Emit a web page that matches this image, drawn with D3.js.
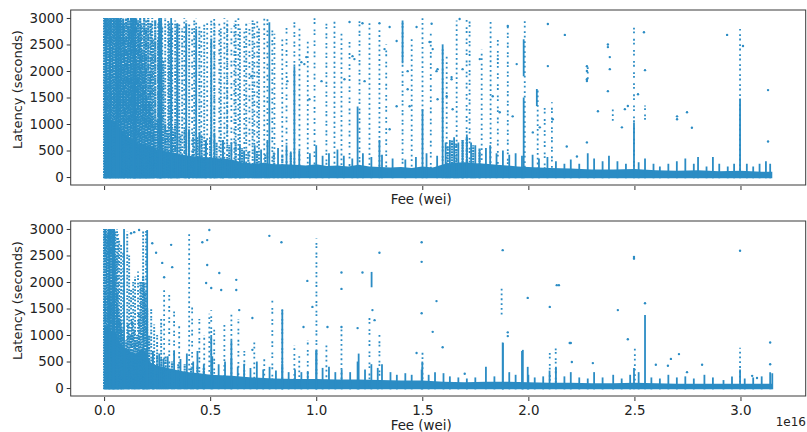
<!DOCTYPE html>
<html>
<head>
<meta charset="utf-8">
<script src="https://cdn.jsdelivr.net/npm/d3@7"></script>
<style>
  body { margin: 0; background: #fff; }
  .wrapper { width: 807px; height: 432px; }
  text { font-family: "DejaVu Sans", sans-serif; fill: #222; }
  .axis path { stroke: none; }
  .axis line { stroke: #333; }
  .axis text { font-size: 13.4px; }
</style>
</head>
<body>
<div class="wrapper"></div>
<script>
width = 807;
height = 432;
blue = "#2b8cc4";

// fee values are in units of 1e16 wei, latency in seconds
xTicks = [0.0, 0.5, 1.0, 1.5, 2.0, 2.5, 3.0];
yTicks = [0, 500, 1000, 1500, 2000, 2500, 3000];

/* ---------- top panel ---------- */
// upper edge of the solid mass of points [fee, latency]
topBase = [[0,1200],[0.03,1100],[0.06,1000],[0.09,850],[0.12,750],[0.15,650],[0.2,600],[0.25,520],[0.3,480],[0.35,430],
  [0.4,400],[0.45,380],[0.5,370],[0.55,350],[0.6,330],[0.65,280],[0.7,250],[0.75,270],[0.8,240],[0.85,240],[0.9,230],
  [0.95,220],[1.0,240],[1.05,210],[1.1,220],[1.15,200],[1.2,230],[1.25,200],[1.3,190],[1.35,180],[1.4,190],[1.45,170],
  [1.5,200],[1.55,180],[1.6,240],[1.65,270],[1.7,280],[1.75,260],[1.8,250],[1.85,230],[1.9,220],[1.95,200],[2.0,190],
  [2.1,170],[2.2,160],[2.3,140],[2.4,140],[2.5,150],[2.6,130],[2.7,120],[2.8,130],[2.9,110],[3.0,120],[3.1,100],[3.15,100]];
// short runs of points rising above the mass [fee, latency]
topSpikes = [[0.40,900],[0.45,850],[0.48,700],[0.52,800],[0.56,700],[0.60,650],[0.64,600],[0.66,500],[0.71,600],[0.74,520],
  [0.77,700],[0.82,550],[0.86,600],[0.88,480],[0.92,500],[0.97,450],[1.00,600],[1.03,400],[1.06,450],[1.10,520],[1.13,400],
  [1.17,350],[1.22,450],[1.26,380],[1.31,420],[1.36,350],[1.42,330],[1.47,380],[1.52,450],[1.57,400],[1.61,650],[1.63,700],
  [1.65,750],[1.67,650],[1.69,700],[1.71,800],[1.73,650],[1.75,600],[1.77,500],[1.80,550],[1.82,600],[1.85,450],[1.88,500],
  [1.91,420],[1.94,450],[1.97,400],[2.02,420],[2.05,350],[2.09,380],[2.13,300],[2.17,250],[2.20,330],[2.24,250],[2.28,450],
  [2.31,350],[2.35,300],[2.38,400],[2.42,300],[2.46,250],[2.52,280],[2.55,350],[2.59,250],[2.62,200],[2.66,250],[2.70,300],
  [2.74,350],[2.78,250],[2.80,380],[2.84,200],[2.87,380],[2.90,250],[2.94,200],[2.97,250],[3.03,250],[3.06,200],[3.09,250],
  [3.12,300],[3.14,250]];
// packed columns of points [fee, max latency]
topDense = [[0.000,3000],[0.005,3000],[0.009,3000],[0.014,3000],[0.019,3000],[0.024,3000],[0.028,2950],[0.033,3000],
  [0.038,3000],[0.042,3000],[0.047,3000],[0.052,3000],[0.057,3000],[0.061,3000],[0.066,3000],[0.071,2950],[0.076,3000],
  [0.080,3000],[0.085,2900],[0.090,3000],[0.094,2900],[0.099,2600],[0.104,3000],[0.109,2400],[0.113,3000],[0.118,2800],
  [0.123,2950],[0.127,3000],[0.132,3000],[0.137,3000],[0.142,3000],[0.146,2500],[0.151,3000],[0.156,2200],[0.160,2950],
  [0.165,2700],[0.170,3000],[0.175,2900],[0.180,2400],[0.184,2000],[0.189,3000],[0.194,2300],[0.198,2800],[0.203,1500],
  [0.208,3000],[0.212,1400],[0.217,2000],[0.222,2900],[0.227,1200],[0.232,2600],[0.236,1000],[0.241,2950],[0.250,1100],
  [0.255,2600],[0.260,3000],[0.264,1200],[0.269,2900],[0.274,900],[0.279,2200],[0.288,1000],[0.297,900],[0.307,2900],
  [0.316,2800],[0.325,900],[0.335,1000],[0.345,2900],[0.360,800],[0.380,900],[0.400,850],[0.420,800],[0.440,750],
  [0.460,800],[0.480,700],[0.500,750],[0.530,650],[0.560,700],[0.590,600],[0.620,650],[0.650,550],[0.680,500],[0.720,500],
  [0.760,450],[0.800,480],[0.840,420],[0.880,450],[1.620,600],[1.640,700],[1.660,650],[1.690,700],[1.710,750],[1.740,600],
  [1.770,550]];
// fairly busy columns [fee, max latency]
topMid = [[0.090,3000],[0.094,2900],[0.104,3000],[0.113,3000],[0.123,2950],[0.127,3000],[0.142,3000],[0.151,3000],
  [0.160,2950],[0.170,3000],[0.180,2900],[0.189,3000],[0.198,2950],[0.208,3000],[0.217,2900],[0.227,3000],[0.241,2950],
  [0.255,2900],[0.264,3000],[0.274,2850],[0.288,3000],[0.302,2950],[0.321,2900],[0.335,2950],[0.354,2900],[0.368,2800],
  [0.387,2950],[0.401,2900],[0.425,2950],[0.449,2850],[0.472,2900],[0.505,2950],[0.520,2900],[0.550,2800],[0.580,2900],
  [0.620,2950],[0.640,2800],[0.670,2900],[0.700,2950],[0.730,2800]];
// thin columns [fee, min latency, max latency]
topSparse = [[0.378,0,3000],[0.415,0,2900],[0.434,0,3000],[0.458,0,2800],[0.486,0,2950],[0.519,0,3000],[0.543,0,2900],
  [0.567,0,3000],[0.581,0,2950],[0.600,0,2800],[0.614,0,2900],[0.633,0,3000],[0.661,0,2750],[0.685,0,2900],[0.708,0,2950],
  [0.722,0,2950],[0.755,0,3000],[0.770,0,3000],[0.793,0,2800],[0.803,0,2700],[0.840,0,2650],[0.860,0,2900],[0.897,0,2950],
  [0.921,0,2800],[0.960,0,2600],[0.992,0,3000],[1.048,0,2950],[1.086,0,2980],[1.119,0,2700],[1.157,0,2650],[1.204,0,2960],
  [1.251,0,2900],[1.298,0,2800],[1.330,0,2500],[1.407,0,2950],[1.450,0,2600],[1.501,0,3000],[1.540,0,2700],[1.596,0,2500],
  [1.615,0,2300],[1.662,0,2950],[1.709,0,3000],[1.723,0,2950],[1.780,0,2400],[1.822,0,2980],[1.856,0,2600],[1.903,0,2850],
  [1.983,0,3000],[2.044,0,1660],[2.077,0,1310],[2.111,0,1410],[2.280,1800,2090],[2.398,1030,1280],[2.498,0,2920],
  [2.550,1000,1350],[2.998,0,2790]];
// solid lines of points [fee, min latency, max latency]
topSolid = [[0.009,0,3000],[0.028,0,3000],[0.057,0,3000],[0.066,0,3000],[0.076,0,3000],[0.137,0,3000],[0.146,0,3000],
  [0.260,0,3000],[0.269,0,3000],[0.316,0,3000],[0.345,0,2900],[0.387,0,2900],[0.434,0,2800],[0.505,0,2600],[0.779,0,2920],
  [0.897,0,2090],[1.195,0,1330],[1.298,0,700],[1.407,2170,2950],[1.501,0,1280],[1.596,0,2500],[1.978,1900,2600],
  [1.978,0,1500],[2.040,1340,1660],[2.498,0,1030],[2.998,0,1470]];
// isolated points [fee, latency]
topDots = [[2.172,2680],[2.276,2090],[2.276,2000],[2.276,1810],[2.328,1240],[2.375,2500],[2.375,2450],[2.384,2262],
  [2.384,2035],[2.375,1620],[2.441,937],[2.455,1280],[2.469,1340],[2.517,1560],[2.545,2730],[2.550,2016],[2.701,1145],
  [2.701,1090],[2.748,1221],[2.771,930],[2.937,2680],[3.012,2470],[3.130,1640],[3.130,670],[0.944,2130],[0.953,2262],
  [1.157,2925],[1.218,2900],[1.298,2900],[1.346,2830],[1.379,2565],[1.473,2830],[1.544,2890],[1.549,2413],[1.567,1997],
  [1.638,1885],[1.676,2980],[1.690,2035],[1.771,2224],[1.856,2224],[1.903,2849],[1.945,2130],[2.092,2886],[2.092,2092],
  [2.276,1845],[1.346,900],[1.379,1334],[1.440,1334],[1.615,1524],[1.643,1278],[1.832,1524],[1.865,1221],[1.926,1145],
  [2.021,842],[2.054,937],[2.115,1089],[2.181,577],[2.229,388],[2.276,653],[0.694,1900],[0.864,1808],[0.930,2167],
  [0.968,1467],[1.025,1808],[1.133,1845],[1.171,2280],[1.180,2224],[1.228,1808],[1.322,2413],[1.431,1997],[1.431,1656],
  [1.534,2546],[1.572,1467],[1.572,2035],[1.638,1845]];

/* ---------- bottom panel ---------- */
bottomBase = [[0,1200],[0.03,1100],[0.06,1000],[0.08,800],[0.1,750],[0.12,700],[0.15,650],[0.18,750],[0.2,650],[0.22,480],
  [0.25,420],[0.3,380],[0.35,330],[0.4,300],[0.45,280],[0.5,250],[0.55,240],[0.6,230],[0.7,200],[0.8,180],[0.9,170],
  [1.0,170],[1.1,160],[1.2,160],[1.3,150],[1.4,140],[1.5,140],[1.6,120],[1.7,110],[1.8,120],[1.9,120],[2.0,110],[2.1,100],
  [2.2,100],[2.3,90],[2.4,90],[2.5,100],[2.6,90],[2.7,80],[2.8,80],[2.9,80],[3.0,80],[3.1,80],[3.15,80]];
bottomSpikes = [[0.23,700],[0.26,650],[0.28,550],[0.30,600],[0.33,700],[0.36,550],[0.39,650],[0.42,500],[0.44,700],
  [0.47,450],[0.51,600],[0.54,450],[0.57,500],[0.60,550],[0.63,400],[0.66,450],[0.69,380],[0.72,500],[0.75,350],[0.78,400],
  [0.81,330],[0.84,450],[0.87,300],[0.90,350],[0.93,300],[0.96,320],[1.00,700],[1.03,380],[1.06,400],[1.09,300],[1.12,350],
  [1.16,300],[1.20,650],[1.23,350],[1.26,450],[1.29,380],[1.31,450],[1.35,300],[1.38,250],[1.42,280],[1.45,250],[1.50,500],
  [1.53,250],[1.56,300],[1.60,280],[1.63,220],[1.67,200],[1.71,180],[1.75,200],[1.80,400],[1.84,220],[1.88,850],[1.91,300],
  [1.94,250],[1.97,700],[2.00,250],[2.03,200],[2.07,220],[2.10,330],[2.13,400],[2.17,220],[2.20,300],[2.24,200],[2.28,180],
  [2.31,300],[2.35,200],[2.40,250],[2.44,180],[2.48,250],[2.52,300],[2.58,200],[2.62,180],[2.66,250],[2.70,200],[2.74,220],
  [2.78,180],[2.83,250],[2.87,200],[2.92,150],[2.96,220],[3.02,180],[3.06,200],[3.10,220],[3.15,280]];
bottomDense = [[0.000,3000],[0.005,3000],[0.009,3000],[0.014,2900],[0.019,3000],[0.024,3000],[0.028,3000],[0.033,3000],
  [0.038,3000],[0.042,2950],[0.047,3000],[0.052,2950],[0.057,2500],[0.061,1800],[0.066,1500],[0.071,1400],[0.076,1300],
  [0.080,1200],[0.085,1100],[0.090,1000],[0.104,900],[0.113,1200],[0.123,1000],[0.132,1300],[0.142,1100],[0.151,900],
  [0.156,1000],[0.165,1400],[0.175,2000],[0.184,2100],[0.189,2000],[0.194,1800],[0.203,1500],[0.212,1000],[0.230,600],
  [0.250,650],[0.270,550],[0.290,600],[0.320,500],[0.350,450],[0.380,450],[0.410,400],[0.440,420],[0.470,380]];
bottomMid = [[0.061,3000],[0.066,2900],[0.071,2800],[0.080,2700],[0.090,2600],[0.109,2950],[0.118,2500],[0.127,1900],
  [0.137,2000],[0.146,2100],[0.160,2200],[0.170,2000],[0.184,2950],[0.198,3000],[0.222,1500],[0.236,1200],[0.250,1000],
  [0.269,1300]];
bottomSparse = [[0.283,0,1850],[0.307,0,1800],[0.330,0,1500],[0.354,0,1200],[0.401,0,2950],[0.415,0,1600],[0.449,0,1300],
  [0.472,0,1000],[0.496,0,1400],[0.505,0,1470],[0.519,0,1100],[0.567,0,1200],[0.600,0,1415],[0.633,0,1300],[0.661,0,700],
  [0.708,0,900],[0.755,0,600],[0.793,0,1650],[0.840,0,1500],[0.897,0,800],[0.920,0,600],[0.960,0,900],[1.001,0,2830],
  [1.048,0,800],[1.119,0,1150],[1.251,0,1400],[1.298,0,1000],[1.501,0,700],[1.874,1340,1890],[2.101,0,750],[2.129,0,800],
  [2.502,0,780],[2.998,0,760]];
bottomSolid = [[0.024,0,3000],[0.042,0,3000],[0.047,0,3000],[0.094,0,3000],[0.203,0,2980],[0.505,0,1000],[0.600,0,900],
  [0.840,0,1470],[1.001,0,720],[1.195,0,500],[1.261,1900,2190],[1.497,0,350],[1.879,0,860],[1.974,0,720],[1.997,0,400],
  [2.498,0,380],[2.550,0,1377],[2.998,0,350],[3.140,0,300]];
bottomDots = [[1.119,2180],[1.119,1870],[1.119,1150],[1.218,2180],[1.298,2550],[1.497,2750],[1.497,2380],[1.497,1410],
  [1.567,1640],[1.879,2600],[1.903,1050],[1.903,980],[1.997,1700],[2.101,1530],[2.144,1940],[2.200,850],[2.422,1470],
  [2.469,920],[2.498,2470],[2.498,2440],[2.550,1600],[2.710,640],[2.998,2590],[3.140,860],[0.127,2920],[0.142,2940],
  [0.165,2980],[0.227,2730],[0.245,2550],[0.274,2360],[0.283,2090],[0.316,2700],[0.321,2280],[0.463,2750],[0.486,2790],
  [0.496,2980],[0.486,2320],[0.481,1980],[0.505,1886],[0.543,2170],[0.552,1850],[0.623,2040],[0.623,1850],[0.637,1470],
  [0.699,1320],[0.779,2870],[0.836,2750],[0.699,720],[0.958,2020],[0.982,1530],[0.940,1150],[1.053,1150],[1.195,1130],
  [1.265,1470],[1.275,1280],[1.473,660],[1.549,1060],[1.596,770],[1.700,270],[2.134,1940],[2.304,470],[2.658,420],
  [2.672,550],[2.601,440],[2.819,440],[2.748,300],[3.055,230],[3.078,190],[3.140,450],[2.195,850],[2.205,490]];

panels = [
  { y0: 10, y1: 185, base: topBase, spikes: topSpikes, dense: topDense, mid: topMid, sparse: topSparse,
    solid: topSolid, dots: topDots, tickLabels: false },
  { y0: 221, y1: 396, base: bottomBase, spikes: bottomSpikes, dense: bottomDense, mid: bottomMid, sparse: bottomSparse,
    solid: bottomSolid, dots: bottomDots, tickLabels: true }
];

plotLeft = 70.7;
plotRight = 805.7;

scaleX = d3.scaleLinear().domain([-0.1575, 3.3075]).range([plotLeft, plotRight]);

// uneven dot rhythms so that columns do not look ruled
midDashes = ["1.8 1.6", "1.8 1.2 1.8 2.6", "1.8 2.2 1.8 1"];
sparseDashes = ["1.8 3", "1.8 2 1.8 5.5", "1.8 4.5 1.8 1.6", "1.8 2.6 1.8 3.8"];

svg = d3.select(".wrapper")
  .append("svg")
  .attr("width", width)
  .attr("height", height);

function drawPanel(p, k) {
  var scaleY = d3.scaleLinear().domain([-150, 3150]).range([p.y1, p.y0]);
  var floor = scaleY(-25);

  svg.append("clipPath").attr("id", "clip" + k)
    .append("rect")
    .attr("x", plotLeft).attr("y", p.y0)
    .attr("width", plotRight - plotLeft).attr("height", p.y1 - p.y0);

  var g = svg.append("g").attr("clip-path", "url(#clip" + k + ")");

  // solid mass near zero latency
  g.append("path")
    .datum(p.base)
    .attr("fill", blue)
    .attr("d", d3.area()
      .x(function (d) { return scaleX(d[0]); })
      .y0(floor)
      .y1(function (d) { return scaleY(d[1]); }));

  g.selectAll(".spike").data(p.spikes).enter().append("line")
    .attr("x1", function (d) { return scaleX(d[0]); })
    .attr("x2", function (d) { return scaleX(d[0]); })
    .attr("y1", floor)
    .attr("y2", function (d) { return scaleY(d[1]); })
    .attr("stroke", blue).attr("stroke-width", 1.8);

  function dotted(data, dashes, w) {
    g.append("g").selectAll("line").data(data).enter().append("line")
      .attr("x1", function (d) { return scaleX(d[0]); })
      .attr("x2", function (d) { return scaleX(d[0]); })
      .attr("y1", function (d) { return d.length > 2 ? scaleY(d[1]) : floor; })
      .attr("y2", function (d) { return scaleY(d[d.length - 1]); })
      .attr("stroke", blue)
      .attr("stroke-width", w)
      .attr("stroke-dasharray", function (d, i) { return dashes[i % dashes.length]; })
      .attr("stroke-dashoffset", function (d, i) { return (i * 1.37) % 4; });
  }
  dotted(p.dense, ["2 0.7", "2 0.5 2 1.1"], 2.2);
  dotted(p.mid, midDashes, 1.9);
  dotted(p.sparse, sparseDashes, 1.8);

  g.append("g").selectAll("line").data(p.solid).enter().append("line")
    .attr("x1", function (d) { return scaleX(d[0]); })
    .attr("x2", function (d) { return scaleX(d[0]); })
    .attr("y1", function (d) { return d[1] === 0 ? floor : scaleY(d[1]); })
    .attr("y2", function (d) { return scaleY(d[2]); })
    .attr("stroke", blue).attr("stroke-width", 1.8);

  g.append("g").selectAll("circle").data(p.dots).enter().append("circle")
    .attr("cx", function (d) { return scaleX(d[0]); })
    .attr("cy", function (d) { return scaleY(d[1]); })
    .attr("r", 1.2)
    .attr("fill", blue);

  // axes
  svg.append("g")
    .attr("class", "axis")
    .attr("transform", "translate(" + plotLeft + ",0)")
    .call(d3.axisLeft(scaleY).tickValues(yTicks).tickSize(4).tickPadding(3).tickFormat(d3.format("d")));

  svg.append("g")
    .attr("class", "axis")
    .attr("transform", "translate(0," + (p.y1 + 1) + ")")
    .call(d3.axisBottom(scaleX).tickValues(xTicks).tickSize(4).tickPadding(4)
      .tickFormat(p.tickLabels ? d3.format(".1f") : ""));

  // frame
  svg.append("rect")
    .attr("x", plotLeft).attr("y", p.y0)
    .attr("width", plotRight - plotLeft).attr("height", p.y1 - p.y0)
    .attr("fill", "none").attr("stroke", "#3a3a3a").attr("stroke-width", 1);

  svg.append("text")
    .attr("transform", "translate(22," + ((p.y0 + p.y1) / 2 - 8) + ") rotate(-90)")
    .attr("text-anchor", "middle")
    .style("font-size", "13px")
    .text("Latency (seconds)");

  svg.append("text")
    .attr("x", (plotLeft + plotRight) / 2 - 17)
    .attr("y", p.tickLabels ? p.y1 + 34 : p.y1 + 19)
    .attr("text-anchor", "middle")
    .style("font-size", "13.4px")
    .text("Fee (wei)");
}

panels.forEach(drawPanel);

svg.append("text")
  .attr("x", 806).attr("y", 426)
  .attr("text-anchor", "end")
  .style("font-size", "12px")
  .text("1e16");
</script>
</body>
</html>
